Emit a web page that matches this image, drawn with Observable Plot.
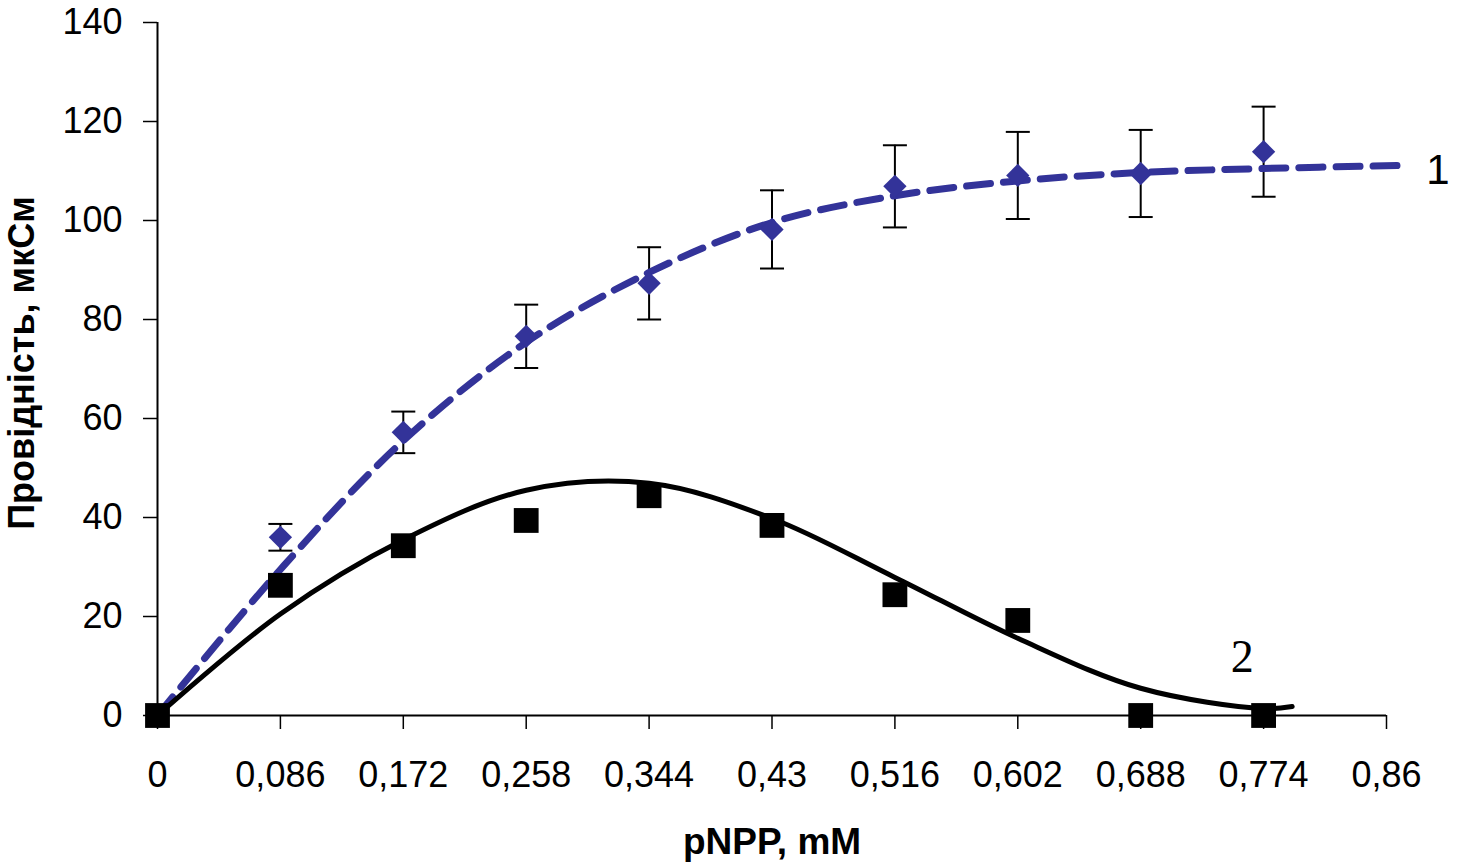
<!DOCTYPE html>
<html>
<head>
<meta charset="utf-8">
<script src="https://cdn.jsdelivr.net/npm/d3@7"></script>
<script src="https://cdn.jsdelivr.net/npm/@observablehq/plot@0.6"></script>
<style>
  html, body { margin: 0; padding: 0; background: #fff; }
</style>
</head>
<body>
<div id="chart"></div>
<script>
// ---- data ----
const xVals   = [0, 0.086, 0.172, 0.258, 0.344, 0.43, 0.516, 0.602, 0.688, 0.774];
const series1 = [0, 36.0, 57.2, 76.6, 87.3, 98.2, 106.9, 109.1, 109.5, 113.9];
const error1  = [0, 2.7, 4.2, 6.4, 7.3, 7.9, 8.3, 8.8, 8.8, 9.1];
const series2 = [0, 26.3, 34.3, 39.4, 44.4, 38.4, 24.4, 19.2, 0, 0];

const fitX1 = [0, 0.086, 0.172, 0.258, 0.344, 0.43, 0.516, 0.602, 0.688, 0.774, 0.868];
const fit1  = [0, 29.5, 55.5, 75.4, 89.5, 99.6, 105.0, 108.0, 109.7, 110.5, 111.1];
const fitX2 = [0, 0.086, 0.172, 0.258, 0.344, 0.43, 0.516, 0.602, 0.688, 0.774, 0.794];
const fit2  = [0, 20.5, 35.5, 45.5, 46.9, 39.8, 27.9, 15.6, 5.5, 1.4, 1.8];

const xTicks = [0, 0.086, 0.172, 0.258, 0.344, 0.43, 0.516, 0.602, 0.688, 0.774, 0.86];
const yTicks = [0, 20, 40, 60, 80, 100, 120, 140];

const xLabel = "pNPP, mM";
const yLabel = "Провідність, мкСм";

const curveLabels = [
  {text: "1", x: 0.896, y: 110.1},
  {text: "2", x: 0.759, y: 11.7}
];

// ---- tables built from the arrays ----
const pts1 = xVals.map((x, i) => ({x, y: series1[i], lo: series1[i] - error1[i], hi: series1[i] + error1[i]}));
const pts2 = xVals.map((x, i) => ({x, y: series2[i]}));
const line1 = fitX1.map((x, i) => ({x, y: fit1[i]}));
const line2 = fitX2.map((x, i) => ({x, y: fit2[i]}));
const bars1 = pts1.filter(d => d.hi > d.lo);

const capSymbol = {
  draw(ctx, size) {
    const w = Math.sqrt(size / Math.PI);
    ctx.moveTo(-w, 0);
    ctx.lineTo(w, 0);
  }
};

const blue = "#333399";
const sans = "'Liberation Sans', Arial, sans-serif";

const chart = Plot.plot({
  width: 1457,
  height: 865,
  marginLeft: 157,
  marginRight: 71,
  marginTop: 22,
  marginBottom: 150,
  x: {domain: [0, 0.86]},
  y: {domain: [0, 140]},
  style: {fontFamily: sans, fontSize: "36px", color: "#000", background: "#fff", overflow: "visible"},
  marks: [
    Plot.axisX(xTicks, {tickSize: 14, tickPadding: 32, strokeWidth: 1.5, label: null,
      tickFormat: d => String(d).replace(".", ","), fontSize: 36}),
    Plot.axisY(yTicks, {tickSize: 14, tickPadding: 21, strokeWidth: 1.5, label: null, fontSize: 36}),
    Plot.ruleY([0], {stroke: "#000", strokeWidth: 2}),
    Plot.ruleX([0], {stroke: "#000", strokeWidth: 2}),
    // error bars
    Plot.ruleX(bars1, {x: "x", y1: "lo", y2: "hi", stroke: "#000", strokeWidth: 2}),
    Plot.dot(bars1, {x: "x", y: "hi", symbol: capSymbol, r: 12, stroke: "#000", fill: "none", strokeWidth: 2}),
    Plot.dot(bars1, {x: "x", y: "lo", symbol: capSymbol, r: 12, stroke: "#000", fill: "none", strokeWidth: 2}),
    // fitted curves
    Plot.line(line1, {x: "x", y: "y", curve: "catmull-rom", stroke: blue, strokeWidth: 7, strokeDasharray: "24,13"}),
    Plot.line(line2, {x: "x", y: "y", curve: "catmull-rom", stroke: "#000", strokeWidth: 5}),
    // markers
    Plot.dot(pts1, {x: "x", y: "y", symbol: "diamond2", r: 10.5, fill: blue, stroke: "none"}),
    Plot.dot(pts2, {x: "x", y: "y", symbol: "square", r: 14, fill: "#000", stroke: "none"}),
    // axis titles
    Plot.text([xLabel], {text: d => d, frameAnchor: "bottom", textAnchor: "middle", dy: 138, fontWeight: "bold", fontSize: 37, fill: "#000"}),
    Plot.text([yLabel], {text: d => d, frameAnchor: "left", textAnchor: "middle", dx: -135, dy: -6, rotate: -90, fontWeight: "bold", fontSize: 36, fill: "#000"}),
    // curve numbers
    Plot.text(curveLabels.slice(0, 1), {x: "x", y: "y", text: "text", fontSize: 42, fill: "#000", fontFamily: sans}),
    Plot.text(curveLabels.slice(1), {x: "x", y: "y", text: "text", fontSize: 46, fill: "#000", fontFamily: "'Liberation Serif', 'Times New Roman', serif"})
  ]
});

document.getElementById("chart").appendChild(chart);
</script>
</body>
</html>
